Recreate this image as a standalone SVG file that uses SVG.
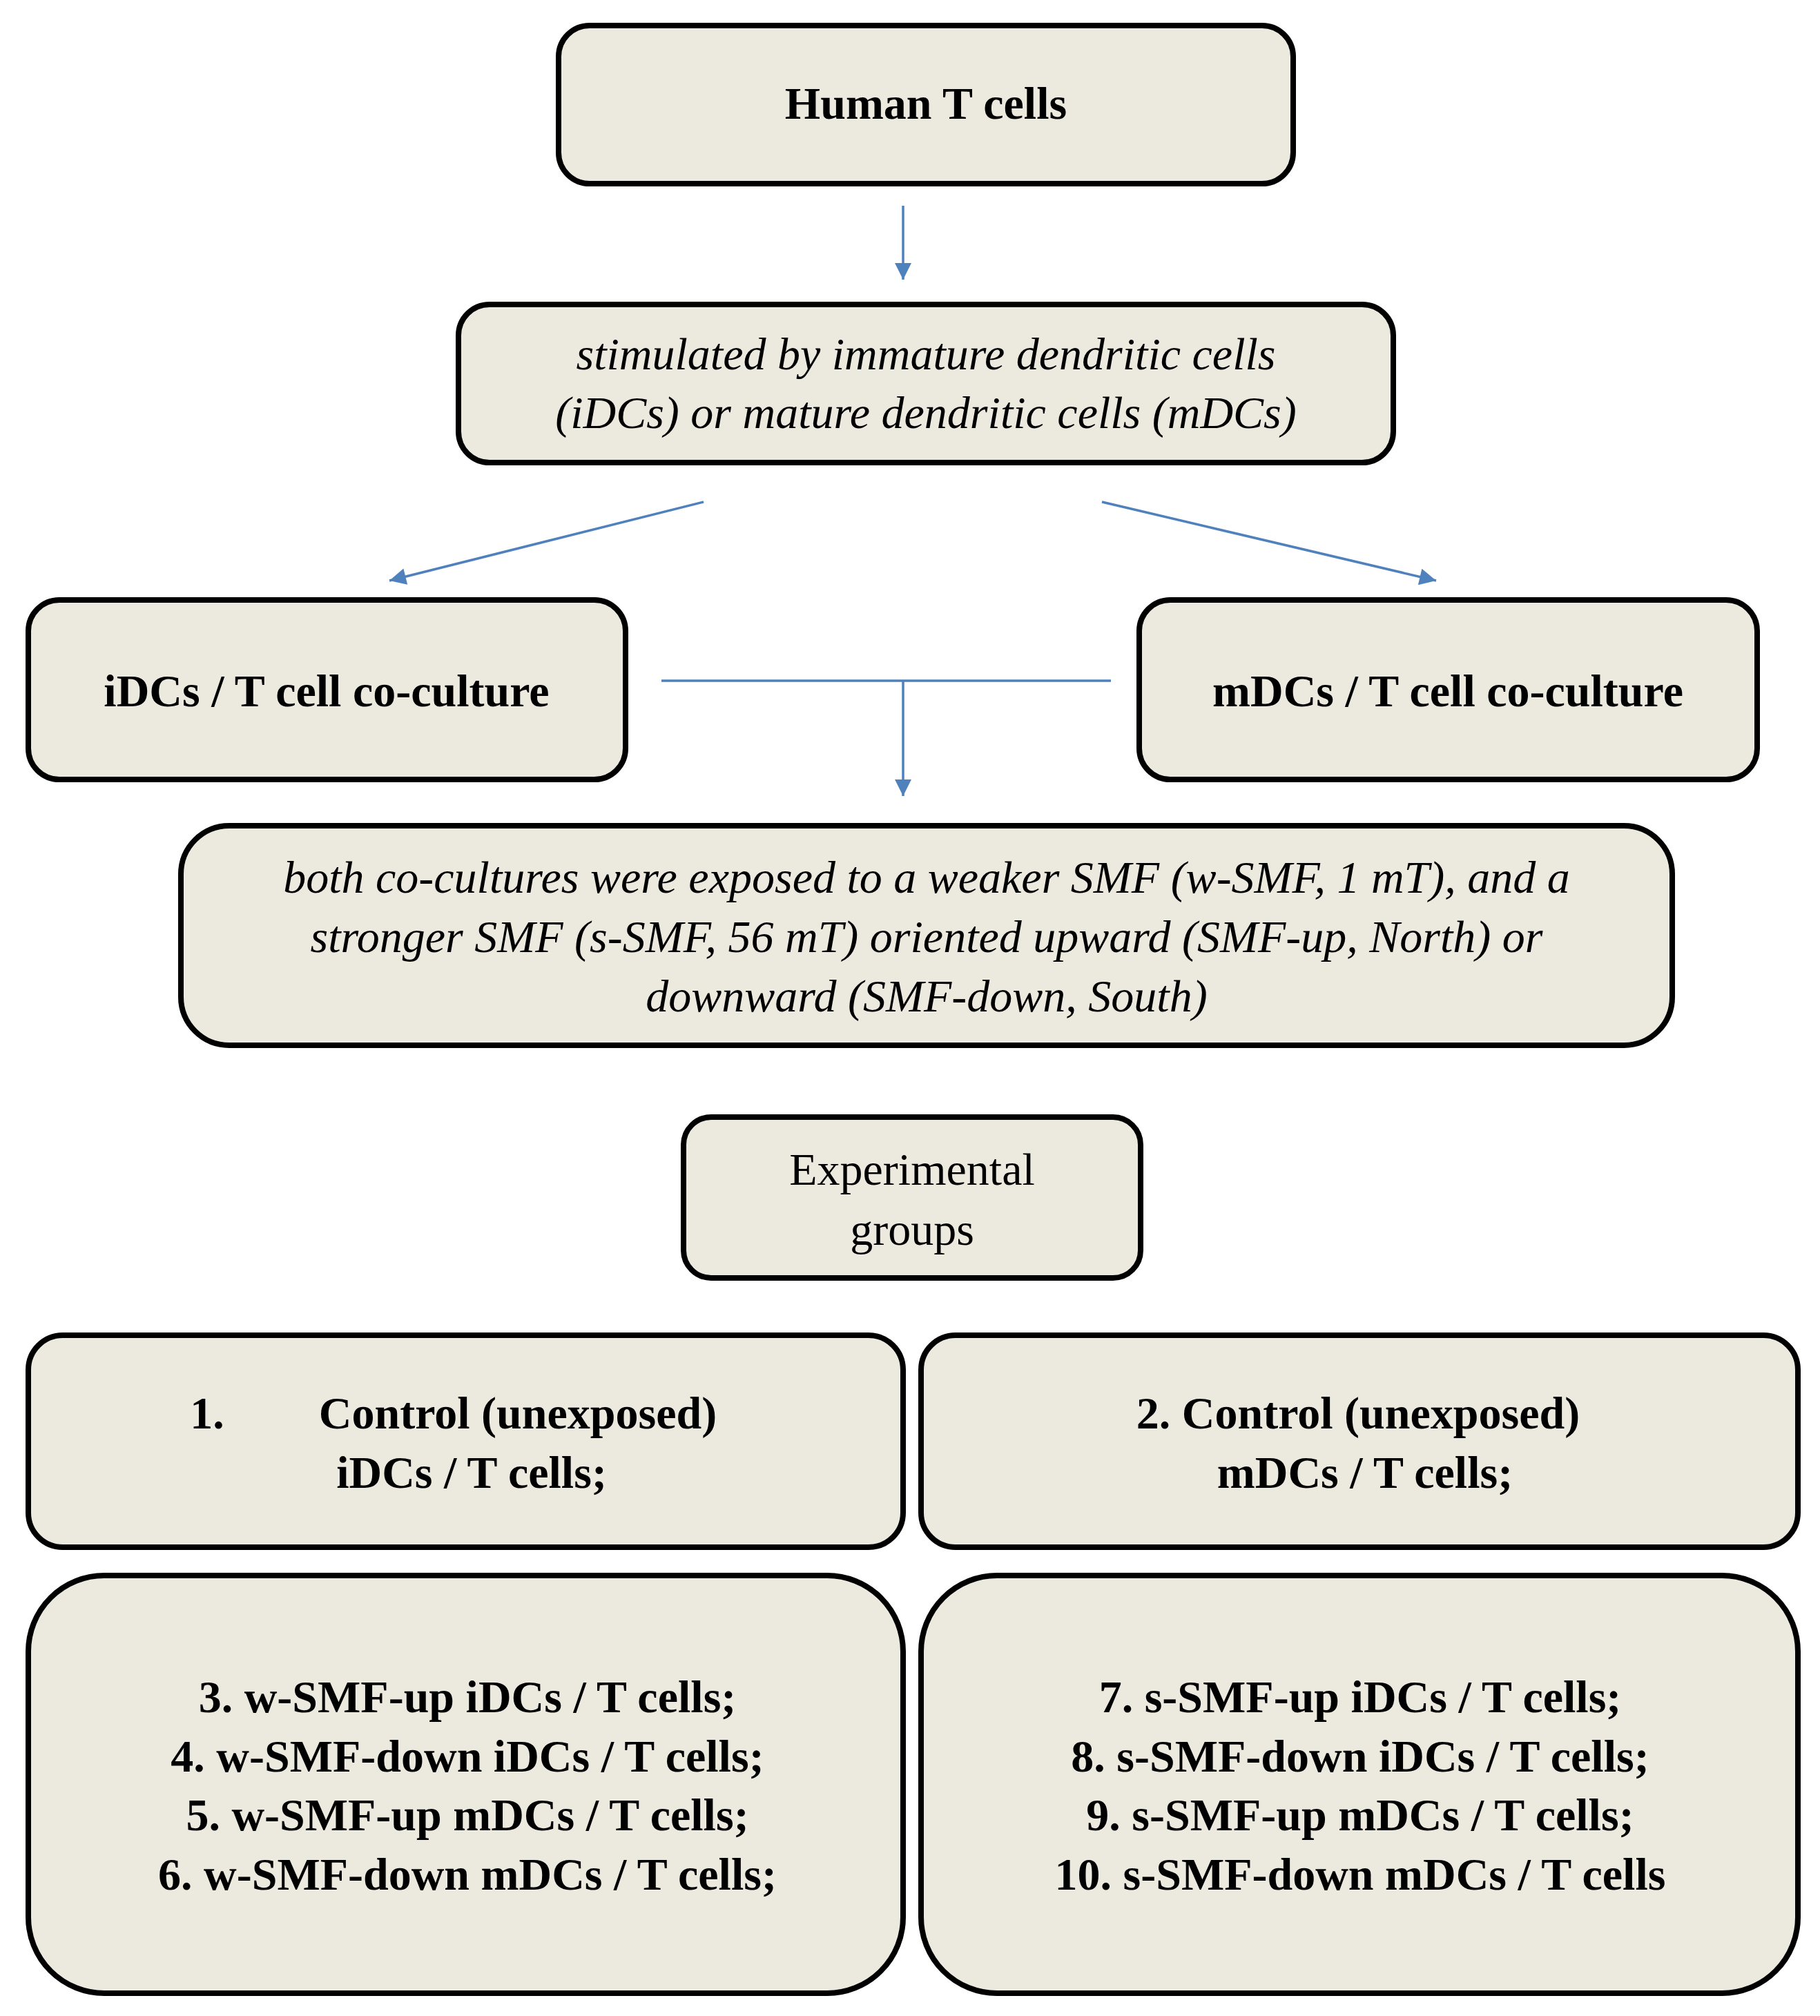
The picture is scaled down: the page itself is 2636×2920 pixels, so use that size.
<svg xmlns="http://www.w3.org/2000/svg" width="2636" height="2920" viewBox="0 0 2636 2920">
<style>
.b{fill:#ECEADF;stroke:#000;stroke-width:8}
text{font-family:"Liberation Serif","DejaVu Serif",serif;font-size:66px;text-anchor:middle;fill:#000}
.bd{font-weight:bold}
.it{font-style:italic}
.c{stroke:#4F81BD;stroke-width:3.5;fill:none}
</style>
<defs><marker id="a" viewBox="0 0 10 10" refX="10" refY="5" markerWidth="9" markerHeight="9" markerUnits="userSpaceOnUse" orient="auto"><path d="M0,0L10,5L0,10z" fill="#4F81BD" transform="scale(1)"/></marker>
<marker id="m" viewBox="0 0 10 10" refX="10" refY="5" markerWidth="30" markerHeight="24" markerUnits="userSpaceOnUse" orient="auto"><path d="M0,0L10,5L0,10z" fill="#4F81BD"/></marker></defs>
<g id="connectors">
<path class="c" d="M1308,298V405" marker-end="url(#m)"/>
<path class="c" d="M1019,727L564,841" marker-end="url(#m)"/>
<path class="c" d="M1596,727L2080,841" marker-end="url(#m)"/>
<path class="c" d="M958,986H1609M1308,986V1153" marker-end="url(#m)"/>
</g>
<g id="n1"><rect class="b" x="809" y="37" width="1064" height="229" rx="45"/><text class="bd" x="1341" y="172">Human T cells</text></g>
<g id="n2"><rect class="b" x="664" y="441" width="1354" height="229" rx="45"/><text class="it" x="1341" y="535">stimulated by immature dendritic cells</text><text class="it" x="1341" y="620">(iDCs) or mature dendritic cells (mDCs)</text></g>
<g id="n3"><rect class="b" x="41" y="869" width="865" height="260" rx="45"/><text class="bd" x="473" y="1023">iDCs / T cell co-culture</text></g>
<g id="n4"><rect class="b" x="1650" y="869" width="895" height="260" rx="45"/><text class="bd" x="2097" y="1023">mDCs / T cell co-culture</text></g>
<g id="n5"><rect class="b" x="262" y="1196" width="2160" height="318" rx="70"/><text class="it" x="1342" y="1293">both co-cultures were exposed to a weaker SMF (w-SMF, 1 mT), and a</text><text class="it" x="1342" y="1379">stronger SMF (s-SMF, 56 mT) oriented upward (SMF-up, North) or</text><text class="it" x="1342" y="1465">downward (SMF-down, South)</text></g>
<g id="n6"><rect class="b" x="990" y="1618" width="662" height="233" rx="40"/><text x="1321" y="1716">Experimental</text><text x="1321" y="1803">groups</text></g>
<g id="n7"><rect class="b" x="41" y="1934" width="1267" height="307" rx="50"/><text class="bd" x="300" y="2069">1.</text><text class="bd" x="750" y="2069">Control (unexposed)</text><text class="bd" x="683" y="2155">iDCs / T cells;</text></g>
<g id="n8"><rect class="b" x="1334" y="1934" width="1270" height="307" rx="50"/><text class="bd" x="1967" y="2069">2. Control (unexposed)</text><text class="bd" x="1977" y="2155">mDCs / T cells;</text></g>
<g id="n9"><rect class="b" x="41" y="2282" width="1267" height="605" rx="110"/><text class="bd" x="677" y="2480">3. w-SMF-up iDCs / T cells;</text><text class="bd" x="677" y="2566">4. w-SMF-down iDCs / T cells;</text><text class="bd" x="677" y="2651">5. w-SMF-up mDCs / T cells;</text><text class="bd" x="677" y="2737">6. w-SMF-down mDCs / T cells;</text></g>
<g id="n10"><rect class="b" x="1334" y="2282" width="1270" height="605" rx="110"/><text class="bd" x="1970" y="2480">7. s-SMF-up iDCs / T cells;</text><text class="bd" x="1970" y="2566">8. s-SMF-down iDCs / T cells;</text><text class="bd" x="1970" y="2651">9. s-SMF-up mDCs / T cells;</text><text class="bd" x="1970" y="2737">10. s-SMF-down mDCs / T cells</text></g>
</svg>
